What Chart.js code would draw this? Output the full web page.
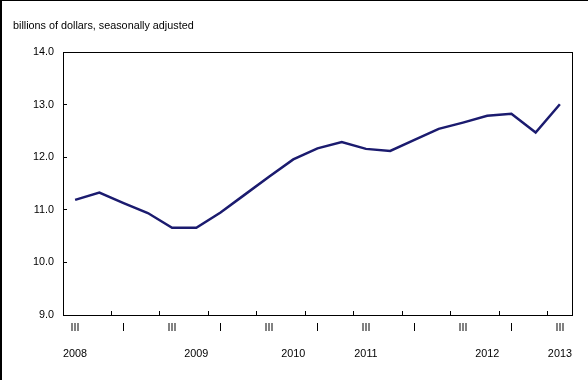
<!DOCTYPE html>
<html>
<head>
<meta charset="utf-8">
<script src="https://cdn.jsdelivr.net/npm/chart.js@4.4.0/dist/chart.umd.min.js"></script>
<style>
  html, body { margin: 0; padding: 0; background: #fff; }
  #wrap {
    width: 588px; height: 380px; box-sizing: border-box;
    border-left: 2px solid #000; border-top: 1px solid #000;
    position: relative;
  }
</style>
</head>
<body>
<div id="wrap"><canvas id="chart"></canvas></div>
<script>
// quarterly values, 2008 Q3 to 2013 Q3
const quarterLabels = ['III', '', 'I', '', 'III', '', 'I', '', 'III', '', 'I', '', 'III', '', 'I', '', 'III', '', 'I', '', 'III'];
const yearLabels = ['2008', '', '', '', '', '2009', '', '', '', '2010', '', '', '2011', '', '', '', '', '2012', '', '', '2013'];
const values = [11.19, 11.33, 11.13, 10.94, 10.66, 10.66, 10.95, 11.29, 11.63, 11.96,
                12.17, 12.29, 12.16, 12.12, 12.33, 12.54, 12.66, 12.79, 12.83, 12.47, 13.01];
const yTicks = [9, 10, 11, 12, 13, 14];

const font = { family: "'Liberation Sans', Arial, sans-serif", size: 10.8 };

// top and right sides of the plot frame
const frame = {
    id: 'frame',
    afterDraw(chart) {
        const { ctx, chartArea: a } = chart;
        const left = Math.round(a.left), right = Math.round(a.right);
        const top = Math.round(a.top), bottom = Math.round(a.bottom);
        ctx.save();
        ctx.fillStyle = '#000';
        ctx.fillRect(left, top, right - left + 1, 1);
        ctx.fillRect(right, top, 1, bottom - top + 1);
        ctx.restore();
    }
};

new Chart(document.getElementById('chart'), {
    type: 'line',
    data: {
        labels: quarterLabels,
        datasets: [{
            data: values,
            borderColor: '#1b1b6f',
            borderWidth: 2.5,
            pointRadius: 0,
            tension: 0,
            fill: false
        }]
    },
    plugins: [frame],
    options: {
        responsive: true,
        maintainAspectRatio: false,
        animation: false,
        layout: { padding: { left: 11, right: 16, top: 0, bottom: 0 } },
        plugins: {
            legend: { display: false },
            tooltip: { enabled: false },
            title: {
                display: true,
                text: 'billions of dollars, seasonally adjusted',
                align: 'start',
                color: '#000',
                font: { ...font, weight: 'normal' },
                padding: { top: 19, bottom: 19.2 }
            }
        },
        scales: {
            x: {
                offset: true,
                grid: {
                    offset: true,
                    drawOnChartArea: false,
                    drawTicks: true,
                    tickLength: -4,
                    tickColor: (c) => (c.index % 2 === 0 ? '#000' : 'rgba(0,0,0,0)')
                },
                border: { display: true, color: '#000', width: 1 },
                ticks: { color: '#000', font: font, autoSkip: false, maxRotation: 0, padding: 11 },
                afterFit: (s) => { s.height = 20; }
            },
            x2: {
                type: 'category',
                position: 'bottom',
                labels: yearLabels,
                offset: true,
                grid: { display: false, drawTicks: false },
                border: { display: false },
                ticks: { color: '#000', font: font, autoSkip: false, maxRotation: 0, padding: 13 },
                afterFit: (s) => { s.height = 45; }
            },
            y: {
                min: 9,
                max: 14,
                afterBuildTicks: (s) => { s.ticks = yTicks.map(v => ({ value: v })); },
                grid: {
                    drawOnChartArea: false,
                    drawTicks: true,
                    tickLength: -4,
                    tickColor: '#000'
                },
                border: { display: true, color: '#000', width: 1 },
                ticks: { color: '#000', font: font, padding: 13, callback: (v) => v.toFixed(1) },
                afterFit: (s) => { s.width = 50; }
            }
        }
    }
});
</script>
</body>
</html>
